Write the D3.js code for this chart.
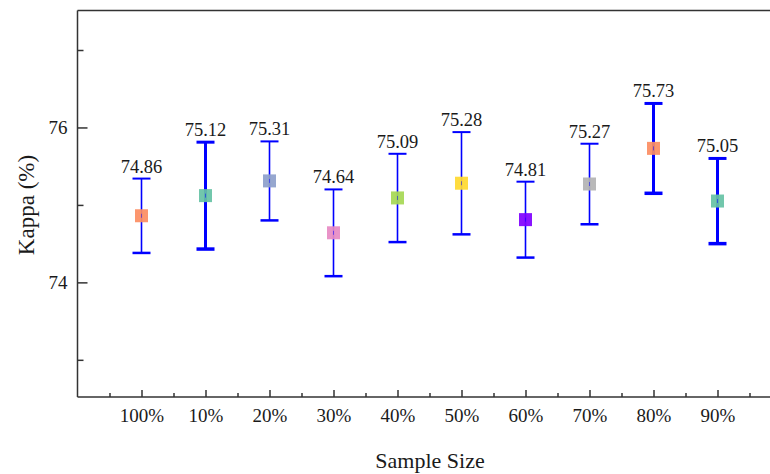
<!DOCTYPE html>
<html>
<head>
<meta charset="utf-8">
<script src="https://cdn.jsdelivr.net/npm/d3@7"></script>
<style>
  html, body { margin: 0; padding: 0; background: #fff; }
  svg { display: block; }
  text { font-family: "Liberation Serif", "Times New Roman", serif; fill: #1a1a1a; }
</style>
</head>
<body>
<svg id="chart" width="770" height="474"></svg>
<script>
// ---- data ----
const categories = ["100%", "10%", "20%", "30%", "40%", "50%", "60%", "70%", "80%", "90%"];
const kappaMean  = [74.86, 75.12, 75.31, 74.64, 75.09, 75.28, 74.81, 75.27, 75.73, 75.05];
const kappaErr   = [0.48, 0.69, 0.51, 0.56, 0.57, 0.66, 0.49, 0.52, 0.58, 0.55];
const yTicksMajor = [74, 76];
const yTicksMinor = [73, 75, 77];

// ---- styles ----
const markerColors = ["#FC8D62", "#66C2A5", "#8DA0CB", "#E78AC3", "#A6D854", "#FFD92F", "#7F00FF", "#B3B3B3", "#FC8D62", "#66C2A5"];
const thickBar = [false, true, false, false, false, false, false, false, true, true];

const svg = d3.select("#chart");
const plotLeft = 77.5, plotTop = 10.5, plotBottom = 397, step = 64;

const x = d3.scaleLinear().domain([0, 11]).range([plotLeft, plotLeft + 11 * step]);
const y = d3.scaleLinear().domain([72.52, 77.51]).range([plotBottom, plotTop]);

const axisColor = "#333";

svg.append("line").attr("x1", plotLeft).attr("x2", 790).attr("y1", plotTop).attr("y2", plotTop)
  .attr("stroke", axisColor).attr("stroke-width", 1.5);

const yAxis = svg.append("g").attr("transform", `translate(${plotLeft},0)`)
  .call(d3.axisLeft(y).tickValues(yTicksMajor).tickSize(-10).tickPadding(10).tickFormat(d3.format("d")));
yAxis.select(".domain").remove();
yAxis.selectAll(".tick line").attr("stroke", axisColor).attr("stroke-width", 1.5);
yAxis.selectAll(".tick text").attr("x", -10).attr("dy", "0.34em").attr("text-anchor", "end")
  .attr("font-size", 19).attr("fill", "#1a1a1a");
const yMinor = svg.append("g").attr("transform", `translate(${plotLeft},0)`)
  .call(d3.axisLeft(y).tickValues(yTicksMinor).tickSize(-6).tickFormat(""));
yMinor.select(".domain").remove();
yMinor.selectAll(".tick line").attr("stroke", axisColor).attr("stroke-width", 1.5);

svg.append("line").attr("x1", plotLeft).attr("x2", plotLeft).attr("y1", plotTop).attr("y2", plotBottom)
  .attr("stroke", axisColor).attr("stroke-width", 1.5);

const xMajorVals = categories.map((c, i) => i + 1);
const xMinorVals = d3.range(0.5, 11, 1);
const xAxis = svg.append("g").attr("transform", `translate(0,${plotBottom})`)
  .call(d3.axisBottom(x).tickValues(xMajorVals).tickSize(-7).tickPadding(11)
    .tickFormat(d => categories[d - 1]));
xAxis.select(".domain").remove();
xAxis.selectAll(".tick line").attr("stroke", axisColor).attr("stroke-width", 1.5);
xAxis.selectAll(".tick text").attr("y", 25).attr("dy", null)
  .attr("font-size", 19).attr("fill", "#1a1a1a");
const xMinor = svg.append("g").attr("transform", `translate(0,${plotBottom})`)
  .call(d3.axisBottom(x).tickValues(xMinorVals).tickSize(-4).tickFormat(""));
xMinor.select(".domain").remove();
xMinor.selectAll(".tick line").attr("stroke", axisColor).attr("stroke-width", 1.5);

svg.append("line").attr("x1", plotLeft).attr("x2", 790).attr("y1", plotBottom).attr("y2", plotBottom)
  .attr("stroke", axisColor).attr("stroke-width", 1.5);

svg.append("text").attr("x", 430).attr("y", 468).attr("text-anchor", "middle")
  .attr("font-size", 22).text("Sample Size");
svg.append("text").attr("transform", "translate(34,205) rotate(-90)").attr("text-anchor", "middle")
  .attr("font-size", 23).text("Kappa (%)");

const pts = categories.map((c, i) => ({
  c, i, m: kappaMean[i], e: kappaErr[i], color: markerColors[i], thick: thickBar[i]
}));
const g = svg.append("g");
const capHalf = 9;
const bars = g.selectAll("g.pt").data(pts).join("g").attr("class", "pt");

bars.append("line")
  .attr("x1", d => x(d.i + 1)).attr("x2", d => x(d.i + 1))
  .attr("y1", d => y(d.m + d.e)).attr("y2", d => y(d.m - d.e))
  .attr("stroke", "#0000FF").attr("stroke-width", d => d.thick ? 3 : 1.6);
bars.append("line")
  .attr("x1", d => x(d.i + 1) - capHalf).attr("x2", d => x(d.i + 1) + capHalf)
  .attr("y1", d => y(d.m + d.e)).attr("y2", d => y(d.m + d.e))
  .attr("stroke", "#0000FF").attr("stroke-width", d => d.thick ? 3 : 2);
bars.append("line")
  .attr("x1", d => x(d.i + 1) - capHalf).attr("x2", d => x(d.i + 1) + capHalf)
  .attr("y1", d => y(d.m - d.e)).attr("y2", d => y(d.m - d.e))
  .attr("stroke", "#0000FF").attr("stroke-width", d => d.thick ? 3.5 : 2.5);

const ms = 13;
bars.append("rect")
  .attr("x", d => x(d.i + 1) - ms / 2).attr("y", d => y(d.m) - ms / 2)
  .attr("width", ms).attr("height", ms)
  .attr("fill", d => d.color).attr("fill-opacity", 0.92);
bars.append("line")
  .attr("x1", d => x(d.i + 1)).attr("x2", d => x(d.i + 1))
  .attr("y1", d => y(d.m) - 2).attr("y2", d => y(d.m) + 2)
  .attr("stroke", "#0000FF").attr("stroke-width", 1).attr("stroke-opacity", 0.5);

bars.append("text")
  .attr("x", d => x(d.i + 1)).attr("y", d => y(d.m + d.e) - 6)
  .attr("text-anchor", "middle").attr("font-size", 18.5)
  .text(d => d.m.toFixed(2));
</script>
</body>
</html>
